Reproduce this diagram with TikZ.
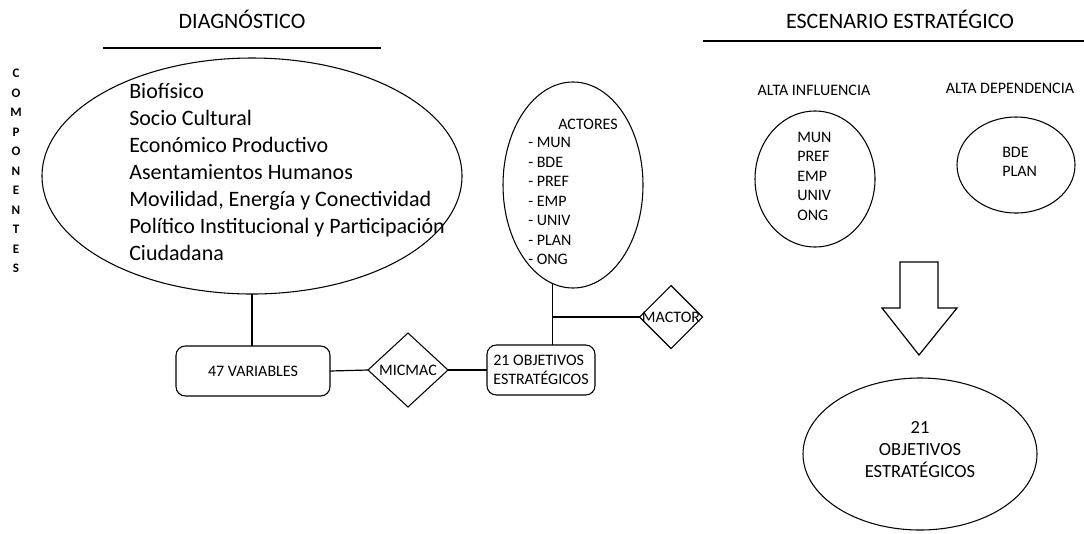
\documentclass[tikz,border=0pt]{standalone}
\usepackage{fontspec}
\setmainfont{Carlito}
\usetikzlibrary{shapes.geometric}

\tikzset{
  outline/.style={draw, line width=0.8pt, inner sep=0pt, outer sep=0pt},
  oval/.style={outline, ellipse},
  roundbox/.style={outline, rectangle, rounded corners=7pt},
  rhomb/.style={outline, diamond},
  bigtext/.style={font=\fontsize{16.5pt}{20.25pt}\selectfont, inner sep=0pt},
  smalltext/.style={font=\fontsize{12pt}{14.6pt}\selectfont, inner sep=0pt},
  midtext/.style={font=\fontsize{13.9pt}{16.5pt}\selectfont, inner sep=0pt},
  lettertext/.style={font=\fontsize{9.75pt}{14.6pt}\selectfont\bfseries, inner sep=0pt},
  wire/.style={line width=0.9pt}
}

\begin{document}
\begin{tikzpicture}[x=0.75pt, y=-0.75pt]
    \useasboundingbox (0,0) rectangle (1084,533);

    % Titles with rules below
    \node[bigtext] (diagtitle) at (242,19) {DIAGNÓSTICO};
    \draw[wire] (103,48) -- (381,48);
    \node[bigtext] (esctitle) at (900,19) {ESCENARIO ESTRATÉGICO};
    \draw[wire] (703,41) -- (1084,41);

    % Vertical label
    \node[lettertext, align=center] (componentes) at (16,171)
        {C\\O\\M\\P\\O\\N\\E\\N\\T\\E\\S};

    % Components ellipse
    \node[oval, minimum width=315pt, minimum height=177pt] (diag) at (252,176) {};
    \node[bigtext, align=left, anchor=west] (diaglist) at (129,172)
        {Biofísico\\Socio Cultural\\Económico Productivo\\Asentamientos Humanos\\Movilidad, Energía y Conectividad\\Político Institucional y Participación\\Ciudadana};

    % Actors ellipse
    \node[oval, minimum width=105pt, minimum height=154.5pt] (actores) at (573,185) {};
    \node[smalltext] (acttitle) at (588,124) {ACTORES};
    \node[smalltext, align=left, anchor=west] (actlist) at (528,201)
        {- MUN\\- BDE\\- PREF\\- EMP\\- UNIV\\- PLAN\\- ONG};

    % Boxes and diamonds
    \node[roundbox, smalltext, draw, minimum width=115.5pt, minimum height=37.5pt] (vars) at (253,371) {47 VARIABLES};
    \node[rhomb, smalltext, draw, minimum width=60pt, minimum height=55.5pt] (micmac) at (408,370) {MICMAC};
    \node[roundbox, smalltext, draw, align=left, minimum width=81pt, minimum height=37.5pt] (obj) at (541,370) {21 OBJETIVOS\\ESTRATÉGICOS};
    \node[rhomb, minimum width=47.25pt, minimum height=47.25pt] (mactor) at (671,317) {};
    \node[smalltext] (mactortxt) at (mactor.center) {MACTOR};

    % Connectors
    \draw[wire] (diag.south) -- (diag.south |- vars.north);
    \draw[wire] (vars.east) -- (micmac.west);
    \draw[wire] (micmac.east) -- (obj.west);
    \draw[wire] (actores.258) -- (actores.258 |- obj.north);
    \draw[wire] (actores.258 |- mactor.west) -- (mactor.west);

    % Strategic scenario
    \node[smalltext] (inftitle) at (814,90) {ALTA INFLUENCIA};
    \node[smalltext] (deptitle) at (1010,88) {ALTA DEPENDENCIA};
    \node[oval, minimum width=90pt, minimum height=102pt] (influencia) at (815,179) {};
    \node[smalltext, align=left, anchor=west] (inflist) at (797,176)
        {MUN\\PREF\\EMP\\UNIV\\ONG};
    \node[oval, minimum width=88.5pt, minimum height=72pt] (dependencia) at (1016,165) {};
    \node[smalltext, align=left, anchor=west] (deplist) at (1002,162)
        {BDE\\PLAN};

    % Block arrow
    \draw[wire, line join=miter] (900,262) -- (938,262) -- (938,308) -- (957,308)
        -- (919,355) -- (882,308) -- (900,308) -- cycle;

    % Result ellipse
    \node[oval, minimum width=175.5pt, minimum height=114pt] (resultado) at (920,454) {};
    \node[midtext, align=center] (restxt) at (920,450)
        {21\\OBJETIVOS\\ESTRATÉGICOS};
\end{tikzpicture}
\end{document}
